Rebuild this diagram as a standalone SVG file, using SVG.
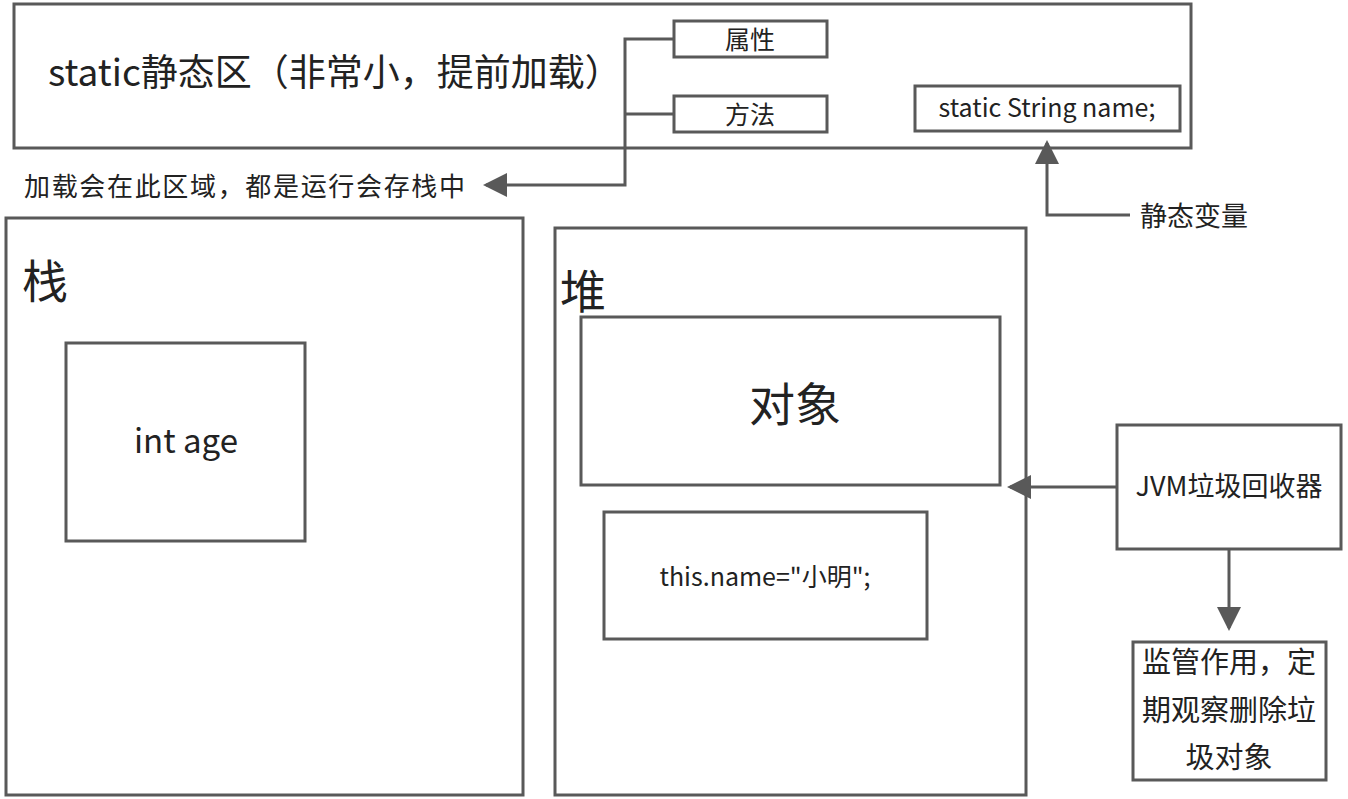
<svg xmlns="http://www.w3.org/2000/svg" width="1348" height="799" viewBox="0 0 1348 799">
<style>
.b{fill:#fff;stroke:#595959;stroke-width:3}
.l{fill:none;stroke:#595959;stroke-width:3}
text{font-family:"Noto Sans CJK SC","Noto Sans",sans-serif;fill:#222}
</style>
<defs><marker id="a" markerWidth="8" markerHeight="8" refX="7" refY="4" orient="auto" markerUnits="strokeWidth"><path d="M0,0L8,4L0,8z" fill="#595959"/></marker></defs>
<rect width="1348" height="799" fill="#fff"/>
<g id="static"><rect class="b" x="14" y="4" width="1177" height="144"/><text x="48" y="86" font-size="37">static静态区（非常小，提前加载）</text></g>
<g id="attr"><rect class="b" x="674" y="21" width="153" height="36"/><text x="750" y="49" font-size="25" text-anchor="middle">属性</text></g>
<g id="method"><rect class="b" x="674" y="96" width="153" height="36"/><text x="750" y="124" font-size="25" text-anchor="middle">方法</text></g>
<g id="sname"><rect class="b" x="915" y="86" width="265" height="45"/><text x="1047" y="117" font-size="25" text-anchor="middle">static  String name;</text></g>
<g id="note1"><text x="24" y="196" font-size="26" textLength="441">加载会在此区域，都是运行会存栈中</text></g>
<g id="svar"><text x="1140" y="226" font-size="27">静态变量</text></g>
<g id="stack"><rect class="b" x="6" y="218" width="517" height="577"/><text x="22" y="298" font-size="46">栈</text></g>
<g id="intage"><rect class="b" x="66" y="343" width="239" height="198"/><text x="186" y="453" font-size="33" text-anchor="middle">int age</text></g>
<g id="heap"><rect class="b" x="555" y="228" width="471" height="567"/><text x="560" y="308" font-size="46">堆</text></g>
<g id="obj"><rect class="b" x="581" y="317" width="419" height="168"/><text x="795" y="421" font-size="46" text-anchor="middle">对象</text></g>
<g id="thisname"><rect class="b" x="604" y="512" width="323" height="127"/><text x="765" y="586" font-size="25" text-anchor="middle">this.name="小明";</text></g>
<g id="jvm"><rect class="b" x="1117" y="425" width="224" height="124"/><text x="1229" y="496" font-size="27" text-anchor="middle">JVM垃圾回收器</text></g>
<g id="gcnote"><rect class="b" x="1133" y="642" width="193" height="138"/><text font-size="29" text-anchor="middle"><tspan x="1229" y="673">监管作用，定</tspan><tspan x="1229" y="721">期观察删除垃</tspan><tspan x="1229" y="768">圾对象</tspan></text></g>
<g id="connectors">
<path class="l" d="M674,39H625V185H486" marker-end="url(#a)"/>
<path class="l" d="M674,114H625"/>
<path class="l" d="M1130,215H1047V143" marker-end="url(#a)"/>
<path class="l" d="M1117,487H1010" marker-end="url(#a)"/>
<path class="l" d="M1229,549V628" marker-end="url(#a)"/>
</g>
</svg>
